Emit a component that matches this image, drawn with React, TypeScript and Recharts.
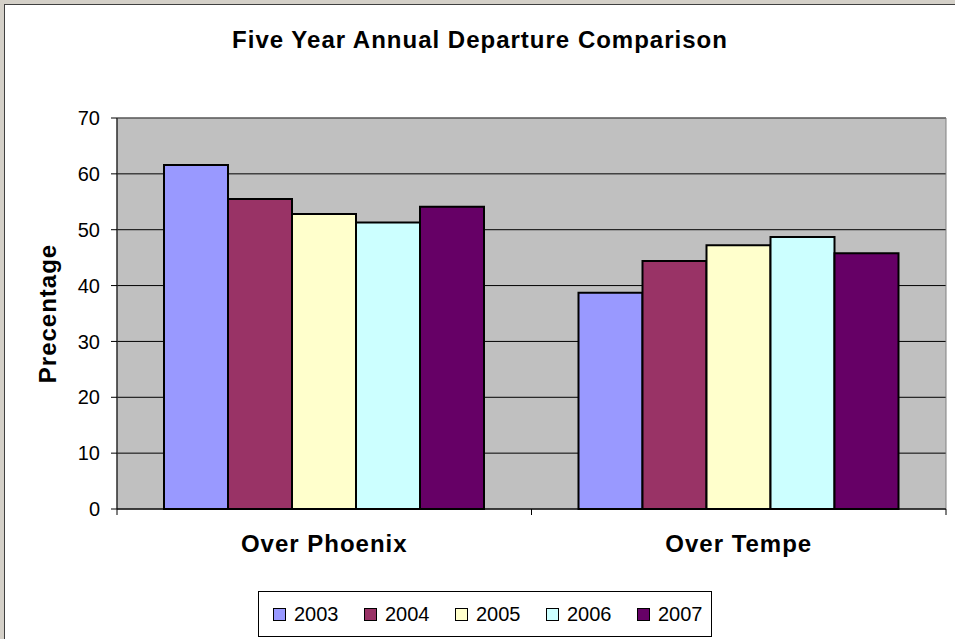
import React from 'react';
import { BarChart, Bar, XAxis, YAxis, CartesianGrid, Legend, ReferenceArea } from 'recharts';

const categories = ['Over Phoenix', 'Over Tempe'];
const years = ['2003', '2004', '2005', '2006', '2007'];
const colors = ['#9999FF', '#993366', '#FFFFCC', '#CCFFFF', '#660066'];
const v2003 = [61.6, 38.7];
const v2004 = [55.5, 44.4];
const v2005 = [52.8, 47.2];
const v2006 = [51.3, 48.7];
const v2007 = [54.1, 45.8];
const yTicks = [0, 10, 20, 30, 40, 50, 60, 70];
const title = 'Five Year Annual Departure Comparison';
const yLabel = 'Precentage';

const seriesValues = [v2003, v2004, v2005, v2006, v2007];
const data = categories.map((c, i) => {
  const row: any = { name: c };
  years.forEach((y, k) => {
    row['y' + y] = seriesValues[k][i];
  });
  return row;
});

const FONT = "Arial, 'Liberation Sans', sans-serif";

const CatTick = (props: any) => {
  const { x, y, payload, index, visibleTicksCount } = props;
  const half = payload && payload.offset ? payload.offset : 0;
  return (
    <g>
      <line x1={x - half} x2={x - half} y1={y} y2={y + 6} stroke="#000" />
      {index === visibleTicksCount - 1 && (
        <line x1={x + half} x2={x + half} y1={y} y2={y + 6} stroke="#000" />
      )}
      <text
        x={x}
        y={y + 43}
        textAnchor="middle"
        fill="#000"
        style={{ fontFamily: FONT, fontSize: 24, fontWeight: 'bold', letterSpacing: 1 }}
      >
        {payload.value}
      </text>
    </g>
  );
};

const YLabel = (props: any) => {
  const vb = props.viewBox || {};
  const cx = (vb.x || 0) + 10;
  const cy = (vb.y || 0) + (vb.height || 0) / 2;
  return (
    <text
      x={cx}
      y={cy}
      transform={`rotate(-90, ${cx}, ${cy})`}
      textAnchor="middle"
      dominantBaseline="central"
      fill="#000"
      style={{ fontFamily: FONT, fontSize: 24, fontWeight: 'bold', letterSpacing: 1 }}
    >
      {yLabel}
    </text>
  );
};

const LegendContent = () => (
  <div
    style={{
      boxSizing: 'border-box',
      width: 454,
      height: 46,
      border: '1px solid #000',
      background: '#fff',
      display: 'flex',
      alignItems: 'center',
      paddingLeft: 14,
      fontFamily: FONT,
      fontSize: 20,
      color: '#000',
    }}
  >
    {years.map((y, k) => (
      <div key={y} style={{ width: 91, display: 'flex', alignItems: 'center', flex: 'none' }}>
        <span
          style={{
            display: 'inline-block',
            boxSizing: 'border-box',
            width: 13,
            height: 13,
            background: colors[k],
            border: '1px solid #000',
            marginRight: 8,
          }}
        />
        <span style={{ lineHeight: '20px' }}>{y}</span>
      </div>
    ))}
  </div>
);

export default function App() {
  return (
    <div style={{ position: 'absolute', left: 0, top: 0, width: 955, height: 639, background: '#d4d0c8', overflow: 'hidden' }}>
      <div
        style={{
          position: 'absolute',
          left: 4,
          top: 4,
          right: 0,
          bottom: 0,
          background: '#fff',
          borderTop: '1px solid #404040',
          borderLeft: '1px solid #404040',
        }}
      />
      <div
        style={{
          position: 'absolute',
          left: 5,
          width: 950,
          top: 27,
          textAlign: 'center',
          fontFamily: FONT,
          fontSize: 24,
          lineHeight: '25px',
          fontWeight: 'bold',
          letterSpacing: 1,
          color: '#000',
        }}
      >
        {title}
      </div>
      <div style={{ position: 'absolute', left: 0, top: 0 }}>
        <BarChart
          width={955}
          height={639}
          data={data}
          margin={{ top: 118, right: 9, bottom: 90, left: 37 }}
          barCategoryGap={47}
          barGap={0}
        >
          <CartesianGrid vertical={false} stroke="#000" fill="#c0c0c0" fillOpacity={1} />
          <ReferenceArea y1={0} y2={70} fill="none" stroke="#808080" ifOverflow="visible" />
          {years.map((y, k) => (
            <Bar
              key={y}
              dataKey={'y' + y}
              name={y}
              fill={colors[k]}
              stroke="#000"
              strokeWidth={2}
              isAnimationActive={false}
            />
          ))}
          <XAxis
            dataKey="name"
            height={40}
            axisLine={{ stroke: '#000' }}
            tickLine={false}
            tickSize={0}
            tickMargin={0}
            tick={<CatTick />}
            interval={0}
          />
          <YAxis
            domain={[0, 70]}
            ticks={yTicks}
            interval={0}
            width={80}
            tickSize={6}
            tickMargin={11}
            axisLine={{ stroke: '#000' }}
            tickLine={{ stroke: '#000' }}
            tick={{ fill: '#000', fontSize: 20, fontFamily: FONT }}
            label={<YLabel />}
          />
          <Legend
            layout="vertical"
            align="center"
            verticalAlign="middle"
            content={<LegendContent />}
            wrapperStyle={{ position: 'absolute', left: 258, top: 591, width: 454, height: 46 }}
          />
        </BarChart>
      </div>
    </div>
  );
}
